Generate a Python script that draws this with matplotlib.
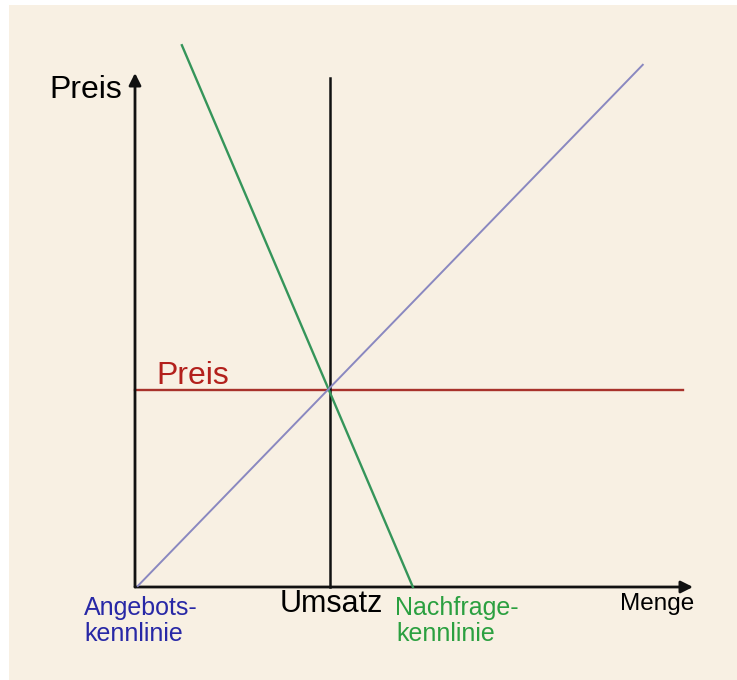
import matplotlib
matplotlib.use("Agg")
import matplotlib.pyplot as plt
from matplotlib.patches import Rectangle

# ---- data (abstract units: Menge 0..100, Preis 0..100) ----
supply_q = [0.5, 91.0]
supply_p = [0.2, 101.6]
demand_q = [8.4, 49.8]
demand_p = [105.4, 0.0]
equilibrium_q = 35.0
equilibrium_p = 38.3
price_line_q = [0.0, 98.2]
umsatz_line_p = [0.0, 99.0]

axis_label_y = "Preis"
axis_label_x = "Menge"
price_label = "Preis"
umsatz_label = "Umsatz"
supply_label = ["Angebots-", "kennlinie"]
demand_label = ["Nachfrage-", "kennlinie"]

plt.rcParams['font.family'] = ['Liberation Sans', 'DejaVu Sans']

W, H = 737, 680
fig = plt.figure(figsize=(W / 100, H / 100), dpi=100, facecolor='white')
bg = Rectangle((9 / W, 0), 1, (H - 5) / H, transform=fig.transFigure,
               facecolor='#F8F0E3', edgecolor='none', zorder=-10)
fig.patches.append(bg)

x0, y0, x1, y1 = 135, 587, 693, 73
ax = fig.add_axes([x0 / W, (H - y0) / H, (x1 - x0) / W, (y0 - y1) / H])
ax.set_zorder(5)
ax.set_xlim(0, 100)
ax.set_ylim(0, 100)
ax.axis('off')

# axes with arrows
arrow_kw = dict(arrowstyle='-|>', lw=2.0, color='#111111', mutation_scale=18,
                shrinkA=0, shrinkB=0)
ax.annotate('', xy=(0, 100), xytext=(0, 0), arrowprops=arrow_kw, annotation_clip=False)
ax.annotate('', xy=(100, 0), xytext=(0, 0), arrowprops=arrow_kw, annotation_clip=False)

# curves
ax.plot(demand_q, demand_p, color='#35955A', lw=1.7, clip_on=False, zorder=3)
ax.plot(supply_q, supply_p, color='#8A88C0', lw=1.4, clip_on=False, zorder=3)
ax.plot(price_line_q, [equilibrium_p, equilibrium_p], color='#A8322B', lw=1.7,
        clip_on=False, zorder=2)
ax.plot([equilibrium_q, equilibrium_q], umsatz_line_p, color='#111111', lw=1.8,
        clip_on=False, zorder=2)

# texts
ax.text(-2.3, 95.1, axis_label_y, ha='right', va='baseline', fontsize=23, color='black')
ax.text(100.2, -4.5, axis_label_x, ha='right', va='baseline', fontsize=17.5, color='black')
ax.text(3.9, 39.5, price_label, ha='left', va='baseline', fontsize=23, color='#B3201C')
ax.text(26.0, -4.9, umsatz_label, ha='left', va='baseline', fontsize=22, color='black')
ax.text(-9.1, -5.45, supply_label[0], ha='left', va='baseline', fontsize=18, color='#2828A6')
ax.text(-9.1, -10.5, supply_label[1], ha='left', va='baseline', fontsize=18, color='#2828A6')
ax.text(46.6, -5.45, demand_label[0], ha='left', va='baseline', fontsize=18, color='#2BA040')
ax.text(46.9, -10.5, demand_label[1], ha='left', va='baseline', fontsize=18, color='#2BA040')

fig.savefig('out.png', dpi=100, facecolor=fig.get_facecolor())
